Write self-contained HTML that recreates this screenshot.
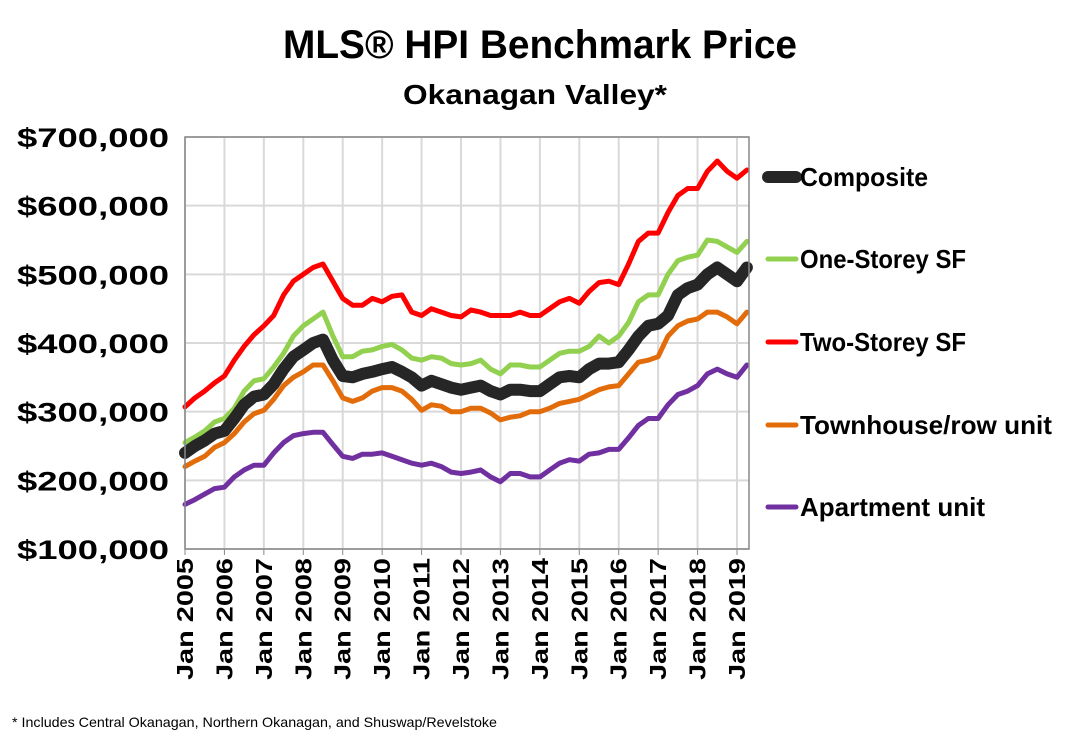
<!DOCTYPE html>
<html><head><meta charset="utf-8"><style>
body{margin:0;background:#fff;width:1079px;height:739px;overflow:hidden;font-family:"Liberation Sans",Arial,sans-serif}
svg text{font-family:"Liberation Sans",Arial,sans-serif;font-weight:bold;fill:#000}
</style></head><body>
<svg width="1079" height="739">
<text x="540" y="58" text-anchor="middle" font-size="40" textLength="514" lengthAdjust="spacingAndGlyphs">MLS® HPI Benchmark Price</text>
<text x="535" y="104" text-anchor="middle" font-size="28" textLength="264" lengthAdjust="spacingAndGlyphs">Okanagan Valley*</text>
<g id="grid"></g><g id="series"></g><g id="axes"></g><g id="legend"></g>
<text x="12" y="727" font-size="14" textLength="485" lengthAdjust="spacingAndGlyphs" style="font-weight:normal">* Includes Central Okanagan, Northern Okanagan, and Shuswap/Revelstoke</text>
</svg>
<script>
const yTicks=[100000,200000,300000,400000,500000,600000,700000];
const xTickYears=[2005,2006,2007,2008,2009,2010,2011,2012,2013,2014,2015,2016,2017,2018,2019];
const startYear=2005, stepYears=0.25;
const composite=[240,250,258,268,272,290,310,322,325,340,362,380,390,400,405,375,352,350,355,358,362,365,358,350,338,345,340,335,332,335,338,330,325,332,332,330,330,340,350,352,350,362,370,370,372,390,410,425,428,440,470,480,485,500,510,500,490,510];
const oneStorey=[255,263,272,285,290,305,330,345,348,365,385,410,425,435,445,410,380,380,388,390,395,398,390,378,375,380,378,370,368,370,375,362,355,368,368,365,365,375,385,388,388,395,410,400,410,430,460,470,470,500,520,525,528,550,548,540,532,548];
const twoStorey=[307,320,330,342,352,375,395,412,425,440,470,490,500,510,515,490,465,455,455,465,460,468,470,445,440,450,445,440,438,448,445,440,440,440,445,440,440,450,460,465,458,475,488,490,485,515,548,560,560,590,615,625,625,650,665,650,640,652];
const townhouse=[220,228,235,248,255,268,285,297,302,318,338,350,358,368,368,345,320,315,320,330,335,335,330,318,302,310,308,300,300,305,305,298,288,292,294,300,300,305,312,315,318,325,332,336,338,355,372,375,380,410,425,432,435,445,445,438,428,445];
const apartment=[165,172,180,188,190,205,215,222,222,240,255,265,268,270,270,252,235,232,238,238,240,235,230,225,222,225,220,212,210,212,215,205,198,210,210,205,205,215,225,230,228,238,240,245,245,262,280,290,290,310,325,330,338,355,362,355,350,368];
const seriesNames=["Composite","One-Storey SF","Two-Storey SF","Townhouse/row unit","Apartment unit"];

const NS="http://www.w3.org/2000/svg";
const L=185,R=749,T=137,B=549;
const X=yr=>L+(yr-2005)*(737-185)/14;
const Y=v=>B-(v-100000)*(B-T)/600000;
function mk(tag,attrs,parent){const e=document.createElementNS(NS,tag);for(const k in attrs)e.setAttribute(k,attrs[k]);parent.appendChild(e);return e;}
const grid=document.getElementById('grid'),axes=document.getElementById('axes'),ser=document.getElementById('series'),leg=document.getElementById('legend');
yTicks.forEach(v=>{
 const g=mk('line',{x1:L,x2:R,y1:Y(v),y2:Y(v),stroke:'#d9d9d9','stroke-width':2},grid);
 
 
 const t=mk('text',{x:169,y:Y(v)+10,'text-anchor':'end','font-size':27,textLength:152,lengthAdjust:'spacingAndGlyphs'},axes);
 t.textContent='$'+v.toLocaleString('en-US');
 
 
});
xTickYears.forEach(yr=>{
 const g=mk('line',{x1:X(yr),x2:X(yr),y1:T,y2:B,stroke:'#d9d9d9','stroke-width':2},grid);
 
 
 mk('line',{x1:X(yr),x2:X(yr),y1:B,y2:B+6,stroke:'#888','stroke-width':1},axes);
 const t=mk('text',{x:0,y:0,'text-anchor':'end','font-size':23,textLength:122,lengthAdjust:'spacingAndGlyphs',transform:`translate(${X(yr)+8},${B+9}) rotate(-90)`},axes);
 t.textContent='Jan '+yr;
 
 
});
const frame=mk('rect',{x:L,y:T,width:R-L,height:B-T,fill:'none',stroke:'#888','stroke-width':1.5},axes);


const defs=[[townhouse,'#e36c0a',5],[apartment,'#7030a0',5],[oneStorey,'#92d050',5],[twoStorey,'#ff0000',5],[composite,'#262626',12]];
defs.forEach(([d,c,w])=>{
 const pts=d.map((v,i)=>X(startYear+i*stepYears).toFixed(1)+','+Y(v*1000).toFixed(1)).join(' ');
 const p=mk('polyline',{points:pts,fill:'none',stroke:c,'stroke-width':w,'stroke-linejoin':'round','stroke-linecap':'round'},ser);
 
 
});
const legY=[177,259,342,425,507],legC=['#262626','#92d050','#ff0000','#e36c0a','#7030a0'],legW=[12,5,5,5,5];
const legLen=[128,166,166,252,185];
seriesNames.forEach((n,i)=>{
 const l=mk('line',{x1:768,x2:796,y1:legY[i],y2:legY[i],stroke:legC[i],'stroke-width':legW[i],'stroke-linecap':'round'},leg);
 
 
 const t=mk('text',{x:800,y:legY[i]+9,'font-size':26,textLength:legLen[i],lengthAdjust:'spacingAndGlyphs'},leg);
 t.textContent=n;
 
 
});
</script>
</body></html>
